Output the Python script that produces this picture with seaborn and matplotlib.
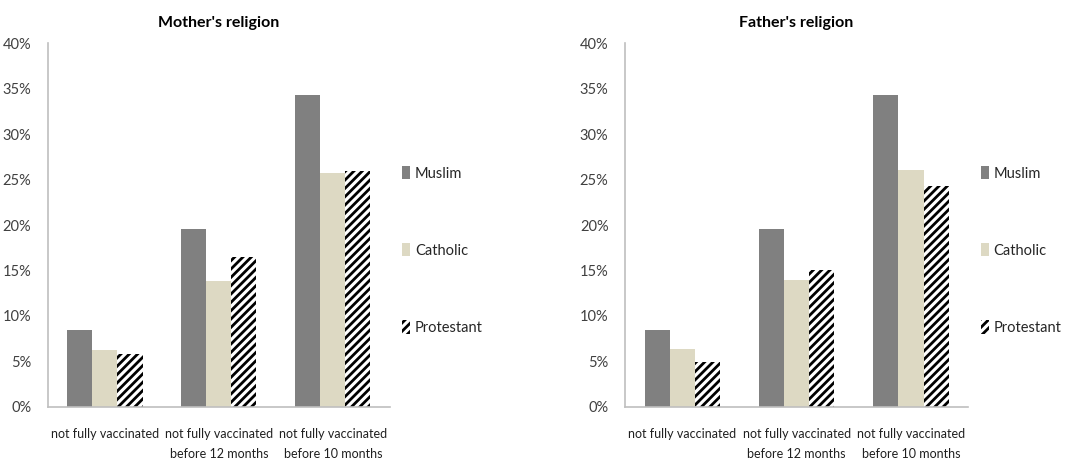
import matplotlib
matplotlib.use("Agg")
import matplotlib.pyplot as plt
import matplotlib.ticker as mtick
import seaborn as sns
import pandas as pd

# data (percent)
outcomes = ["not fully vaccinated",
            "not fully vaccinated\nbefore 12 months",
            "not fully vaccinated\nbefore 10 months"]
religions = ["Muslim", "Catholic", "Protestant"]

mother_muslim = [8.5, 19.6, 34.3]
mother_catholic = [6.3, 13.9, 25.7]
mother_protestant = [5.8, 16.5, 26.0]

father_muslim = [8.5, 19.6, 34.3]
father_catholic = [6.4, 14.0, 26.1]
father_protestant = [4.9, 15.1, 24.3]

colors = {"Muslim": "#808080", "Catholic": "#DDD9C3", "Protestant": "white"}


def to_long(muslim, catholic, protestant):
    rows = []
    for rel, vals in zip(religions, [muslim, catholic, protestant]):
        for outc, v in zip(outcomes, vals):
            rows.append({"outcome": outc, "religion": rel, "value": v / 100})
    return pd.DataFrame(rows)


sns.set_style("white")
plt.rcParams['font.family'] = ['Lato', 'DejaVu Sans']
plt.rcParams['hatch.linewidth'] = 2.0
plt.rcParams['hatch.color'] = 'black'

fig = plt.figure(figsize=(10.65, 4.65), dpi=100)
ax1 = fig.add_axes([0.045, 0.125, 0.321, 0.782])
ax2 = fig.add_axes([0.587, 0.125, 0.322, 0.782])

panels = [
    (ax1, "Mother's religion", to_long(mother_muslim, mother_catholic, mother_protestant)),
    (ax2, "Father's religion", to_long(father_muslim, father_catholic, father_protestant)),
]

for ax, title, df in panels:
    sns.barplot(data=df, x="outcome", y="value", hue="religion",
                hue_order=religions, order=outcomes, palette=colors,
                width=0.66, saturation=1, ax=ax, linewidth=0, legend=True)
    # hatch the Protestant bars
    for patch in ax.containers[2]:
        patch.set_hatch("////")
        patch.set_edgecolor("black")
        patch.set_linewidth(0)
    ax.set_ylim(0, 0.40)
    ax.set_yticks([i * 0.05 for i in range(9)])
    ax.yaxis.set_major_formatter(mtick.PercentFormatter(1.0, decimals=0))
    ax.set_xlabel("")
    ax.set_ylabel("")
    ax.set_title(title, fontsize=11.5, fontweight="bold", pad=12, color="black")
    ax.tick_params(axis="y", labelsize=10.5, colors="#404040", length=0, pad=12)
    ax.tick_params(axis="x", labelsize=9, colors="#202020", length=0, pad=15)
    for lbl in ax.get_xticklabels():
        lbl.set_linespacing(1.8)
    for s in ["top", "right"]:
        ax.spines[s].set_visible(False)
    ax.spines["left"].set_color("#BFBFBF")
    ax.spines["bottom"].set_color("#BFBFBF")
    ax.spines["left"].set_linewidth(1.2)
    ax.spines["bottom"].set_linewidth(1.2)

    handles, labels = ax.get_legend_handles_labels()
    for h in handles:
        h.set_linewidth(0)
    handles[2].set_hatch("////")
    handles[2].set_edgecolor("black")
    ax.legend(handles, labels, loc="center left", bbox_to_anchor=(1.02, 0.43),
              frameon=False, fontsize=10.5, handlelength=0.55, handleheight=1.0,
              handletextpad=0.3, labelspacing=4.3, borderaxespad=0)

fig.savefig("out.png", dpi=100)
